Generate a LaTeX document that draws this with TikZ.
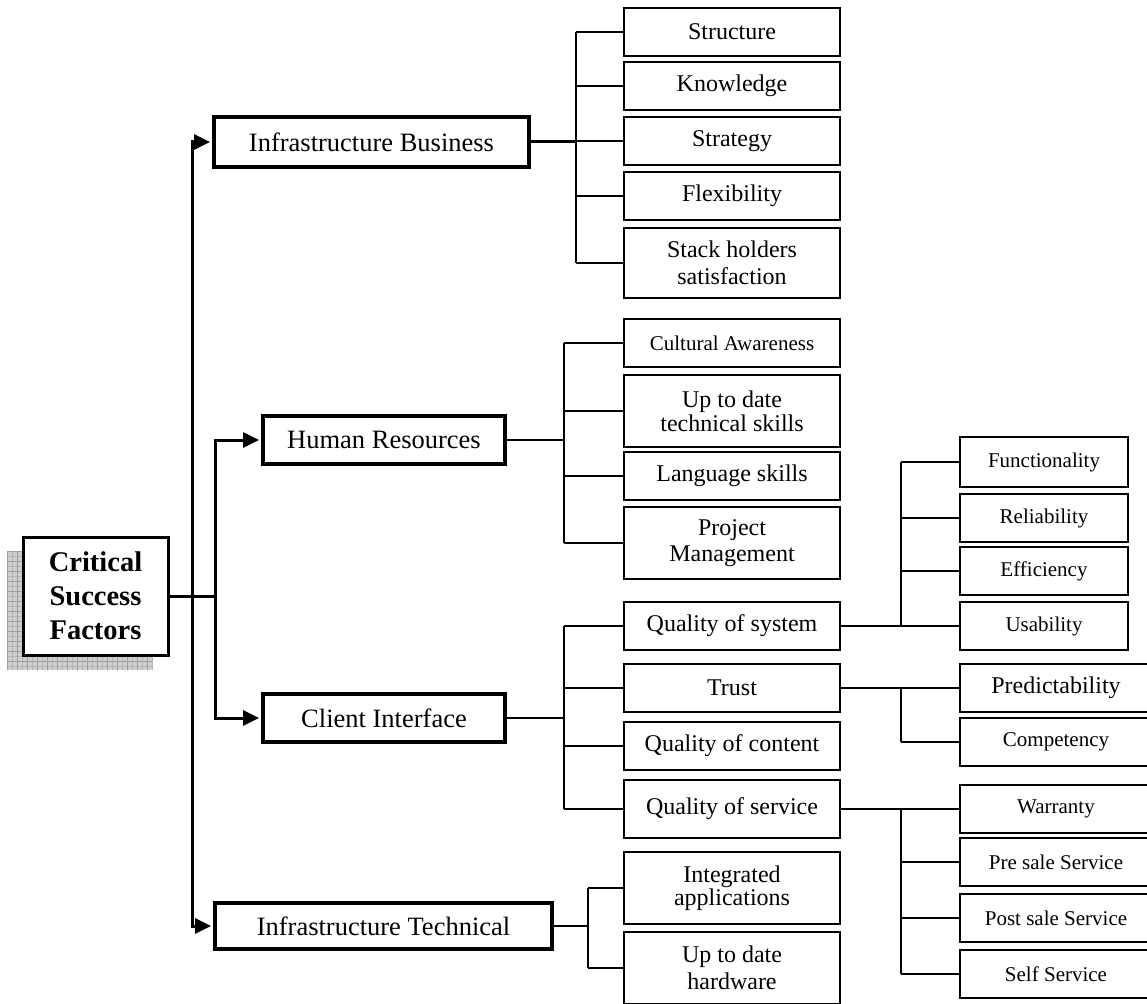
\documentclass[tikz,border=0pt]{standalone}
\usepackage{fontspec}
\setmainfont{Liberation Serif}
\usetikzlibrary{arrows.meta}
\newcommand\boxat[7]{\node[#1, minimum width={(#5-#3)*1pt}, minimum height={(#6-#4)*1pt}] (#2) at ({(#3+#5)/2},{(#4+#6)/2}) {#7};}
\begin{document}
\begin{tikzpicture}[x=1pt,y=-1pt,
  csfbox/.style={draw, line width=3pt, fill=white, inner sep=0pt, align=center, font=\bfseries\fontsize{28.5}{34}\selectfont},
  lvlzero/.style={draw, line width=4pt, fill=white, inner sep=0pt, align=center, font=\fontsize{26.5}{28}\selectfont},
  lvlone/.style={draw, line width=2.4pt, fill=white, inner sep=0pt, align=center, font=\fontsize{24}{26.5}\selectfont},
  smallbox/.style={lvlone, font=\fontsize{21}{23}\selectfont},
  trunk/.style={line width=3pt},
  arr/.style={trunk, -{Triangle[length=16pt,width=15pt]}, shorten >=2pt},
  branch/.style={line width=2pt},
]
\useasboundingbox (0,0) rectangle (1147,1003);
% shadow of the root box
\fill[gray!38] (7,551) rectangle (152,670);
\foreach \i in {0,...,23} \draw[gray!58, line width=0.6pt] (7,551+5*\i) -- (152,551+5*\i);
\foreach \i in {0,...,29} \draw[gray!58, line width=0.6pt] (7+5*\i,551) -- (7+5*\i,670);
\foreach \i in {0,...,11} \draw[gray!75, line width=0.9pt] (7,551+10*\i) -- (152,551+10*\i);
\foreach \i in {0,...,14} \draw[gray!75, line width=0.9pt] (7+10*\i,551) -- (7+10*\i,670);
% root
\boxat{csfbox}{csf}{23}{537}{168}{655}{Critical\\Success\\Factors}
% level 0
\boxat{lvlzero}{ib}{214}{117}{529}{167}{Infrastructure Business}
\boxat{lvlzero}{hr}{263}{416}{505}{464}{Human Resources}
\boxat{lvlzero}{ci}{263}{694}{505}{742}{Client Interface}
\boxat{lvlzero}{it}{215}{903}{552}{949}{Infrastructure Technical}
% Infrastructure Business children
\boxat{lvlone}{s1}{624}{8}{840}{56}{Structure}
\boxat{lvlone}{s2}{624}{62}{840}{110}{Knowledge}
\boxat{lvlone}{s3}{624}{117}{840}{165}{Strategy}
\boxat{lvlone}{s4}{624}{172}{840}{220}{Flexibility}
\boxat{lvlone}{s5}{624}{228}{840}{298}{Stack holders\\satisfaction}
% Human Resources children
\boxat{smallbox}{h1}{624}{319}{840}{367}{Cultural Awareness}
\boxat{lvlone, font=\fontsize{24}{24}\selectfont}{h2}{624}{375}{840}{447}{Up to date\\technical skills}
\boxat{lvlone}{h3}{624}{452}{840}{500}{Language skills}
\boxat{lvlone}{h4}{624}{507}{840}{579}{Project\\Management}
% Client Interface children
\boxat{lvlone}{c1}{624}{602}{840}{650}{Quality of system}
\boxat{lvlone}{c2}{624}{664}{840}{712}{Trust}
\boxat{lvlone}{c3}{624}{722}{840}{770}{Quality of content}
\boxat{lvlone}{c4}{624}{780}{840}{838}{Quality of service}
% Infrastructure Technical children
\boxat{lvlone, font=\fontsize{24}{23}\selectfont}{t1}{624}{852}{840}{924}{Integrated\\applications}
\boxat{lvlone}{t2}{624}{932}{840}{1004}{Up to date\\hardware}
% Quality of system children
\boxat{smallbox}{f1}{960}{437}{1128}{487}{Functionality}
\boxat{smallbox}{f2}{960}{494}{1128}{542}{Reliability}
\boxat{smallbox}{f3}{960}{547}{1128}{595}{Efficiency}
\boxat{smallbox}{f4}{960}{602}{1128}{650}{Usability}
% Trust children
\boxat{lvlone}{p1}{960}{664}{1152}{712}{Predictability}
\boxat{smallbox}{p2}{960}{718}{1152}{766}{Competency}
% Quality of service children
\boxat{smallbox}{w1}{960}{785}{1152}{833}{Warranty}
\boxat{smallbox}{w2}{960}{838}{1152}{886}{Pre sale Service}
\boxat{smallbox}{w3}{960}{894}{1152}{942}{Post sale Service}
\boxat{smallbox}{w4}{960}{950}{1152}{998}{Self Service}
% trunk coordinates
\coordinate (xa) at (192.5,0);
\coordinate (xb) at (215.5,0);
\coordinate (va) at (576,0);
\coordinate (vb) at (564,0);
\coordinate (vc) at (588,0);
\coordinate (vd) at (901,0);
% root connectors
\draw[trunk] (csf.east) -- (xb |- csf.east);
\draw[arr] (xa |- csf.east) |- (ib.west);
\draw[arr] (xa |- csf.east) |- (it.west);
\draw[arr] (xb |- csf.east) |- (hr.west);
\draw[arr] (xb |- csf.east) |- (ci.west);
% Infrastructure Business branches
\draw[trunk] (ib.east) -- (va |- ib.east);
\draw[branch] (va |- s1.west) -- (va |- s5.west);
\foreach \c in {s1,s2,s3,s4,s5} \draw[branch] (va |- \c.west) -- (\c.west);
% Human Resources branches
\draw[branch] (hr.east) -- (vb |- hr.east);
\draw[branch] (vb |- h1.west) -- (vb |- h4.west);
\foreach \c in {h1,h2,h3,h4} \draw[branch] (vb |- \c.west) -- (\c.west);
% Client Interface branches
\draw[branch] (ci.east) -- (vb |- ci.east);
\draw[branch] (vb |- c1.west) -- (vb |- c4.west);
\foreach \c in {c1,c2,c3,c4} \draw[branch] (vb |- \c.west) -- (\c.west);
% Infrastructure Technical branches
\draw[branch] (it.east) -- (vc |- it.east);
\draw[branch] (vc |- t1.west) -- (vc |- t2.west);
\foreach \c in {t1,t2} \draw[branch] (vc |- \c.west) -- (\c.west);
% Quality of system branches
\draw[branch] (c1.east) -- (vd |- c1.east);
\draw[branch] (vd |- f1.west) -- (vd |- f4.west);
\foreach \c in {f1,f2,f3} \draw[branch] (vd |- \c.west) -- (\c.west);
\draw[branch] (vd |- c1.east) -- (f4.west);
% Trust branches
\draw[branch] (c2.east) -- (p1.west);
\draw[branch] (vd |- p1.west) -- (vd |- p2.west);
\draw[branch] (vd |- p2.west) -- (p2.west);
% Quality of service branches
\draw[branch] (c4.east) -- (vd |- c4.east);
\draw[branch] (vd |- w1.west) -- (vd |- w4.west);
\foreach \c in {w2,w3,w4} \draw[branch] (vd |- \c.west) -- (\c.west);
\draw[branch] (vd |- c4.east) -- (w1.west);
\end{tikzpicture}
\end{document}
